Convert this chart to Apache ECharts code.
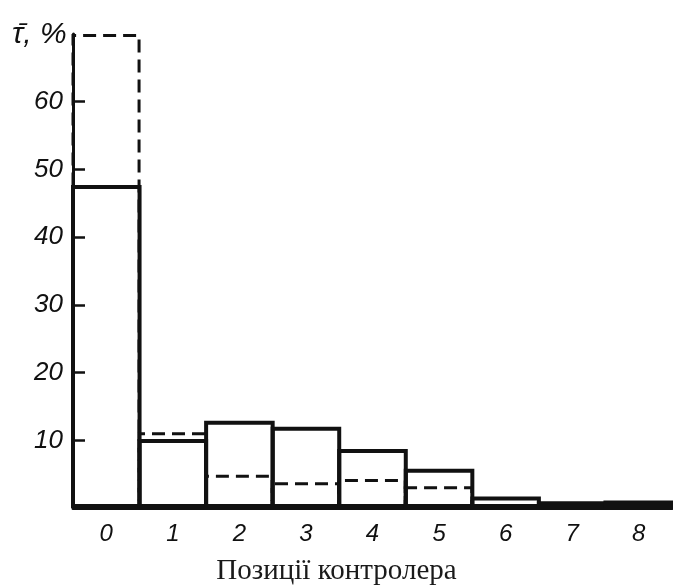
<!DOCTYPE html>
<html>
<head>
<meta charset="utf-8">
<script src="https://cdn.jsdelivr.net/npm/echarts@6/dist/echarts.min.js"></script>
<style>
  html, body { margin: 0; padding: 0; background: #fff; }
  #chart { width: 673px; height: 587px; }
</style>
</head>
<body>
<div id="chart"></div>
<script>
// позиції контролера
var positions = ['0', '1', '2', '3', '4', '5', '6', '7', '8'];
// суцільна гістограма
var solidValues = [47.7, 10.2, 12.9, 12.0, 8.7, 5.8, 1.7, 1.0, 1.1];
// штрихова гістограма
var dashedValues = [70, 11.2, 4.9, 3.8, 4.3, 3.2, '-', '-', '-'];
var yTicks = [10, 20, 30, 40, 50, 60];

var chart = echarts.init(document.getElementById('chart'));

// ширина стовпця: смуга категорії + товщина рамки (рамка малюється всередині)
var band = (673 - 73 - 1) / positions.length;

var labelFont = {
  color: '#111',
  fontFamily: 'Liberation Sans',
  fontStyle: 'italic',
  fontSize: 26
};

chart.setOption({
  animation: false,
  grid: {
    left: 73,
    right: 1,
    top: 34,
    bottom: 79
  },
  xAxis: {
    type: 'category',
    data: positions,
    boundaryGap: true,
    axisLine: { show: true, lineStyle: { color: '#111', width: 3 } },
    axisTick: { show: false },
    axisLabel: {
      margin: 14,
      fontSize: 24,
      color: labelFont.color,
      fontFamily: labelFont.fontFamily,
      fontStyle: labelFont.fontStyle
    },
    splitLine: { show: false }
  },
  yAxis: {
    type: 'value',
    min: 0,
    max: 70,
    interval: 10,
    axisLine: { show: true, lineStyle: { color: '#111', width: 3 } },
    axisTick: {
      show: true,
      inside: true,
      length: 12,
      customValues: yTicks,
      lineStyle: { color: '#111', width: 2.5 }
    },
    axisLabel: Object.assign({ margin: 10, customValues: yTicks }, labelFont),
    splitLine: { show: false }
  },
  graphic: [{
    type: 'text',
    left: 12,
    top: 20,
    style: {
      text: 'τ̄, %',
      fill: '#111',
      font: 'italic 30px "Liberation Sans"'
    }
  }, {
    type: 'text',
    left: 'center',
    top: 557,
    style: {
      text: 'Позиції контролера',
      fill: '#1a1a1a',
      font: '29px "Liberation Serif"'
    }
  }],
  series: [{
    name: 'dashed',
    type: 'bar',
    data: dashedValues,
    barWidth: band + 3,
    barGap: '-100%',
    z: 2,
    silent: true,
    itemStyle: {
      color: 'rgba(0,0,0,0)',
      borderColor: '#111',
      borderWidth: 3,
      borderType: [13, 7]
    }
  }, {
    name: 'solid',
    type: 'bar',
    data: solidValues,
    barWidth: band + 4,
    barGap: '-100%',
    z: 3,
    silent: true,
    itemStyle: {
      color: 'rgba(0,0,0,0)',
      borderColor: '#111',
      borderWidth: 4
    }
  }]
});
</script>
</body>
</html>
